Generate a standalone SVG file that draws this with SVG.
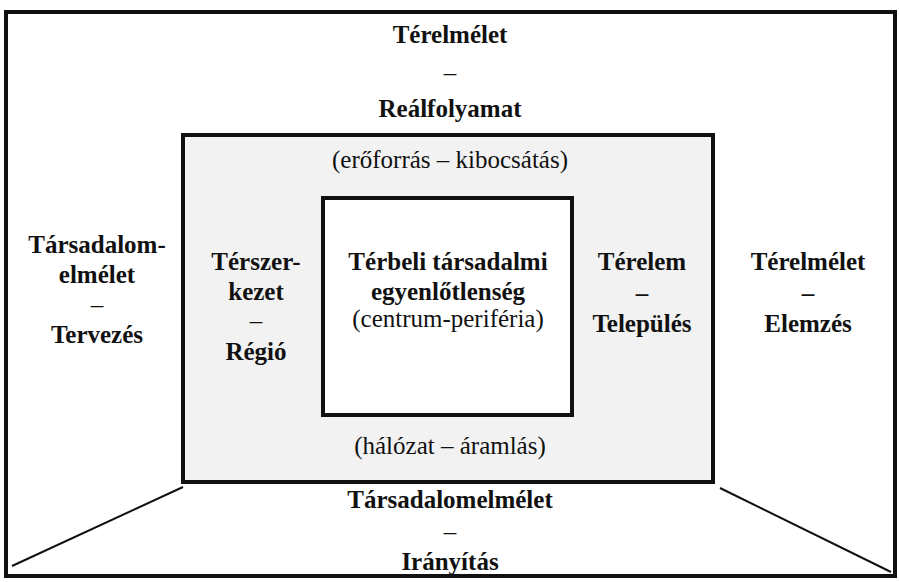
<svg xmlns="http://www.w3.org/2000/svg" width="899" height="582" viewBox="0 0 899 582">
<style>
.b{font-family:"Liberation Serif","Times New Roman",serif;font-weight:bold;font-size:25px;fill:#111;text-anchor:middle}
.r{font-family:"Liberation Serif","Times New Roman",serif;font-weight:normal;font-size:25px;fill:#111;text-anchor:middle}
.box{stroke:#111;stroke-width:4;fill:none}
</style>
<rect width="899" height="582" fill="#fff"/>
<g id="outer">
<rect class="box" x="6" y="12" width="889" height="564" stroke-width="3"/>
<text class="b" x="450" y="43">Térelmélet</text>
<text class="r" x="450" y="81">–</text>
<text class="b" x="450" y="117">Reálfolyamat</text>
<text class="b" x="97" y="253">Társadalom-</text>
<text class="b" x="97" y="283">elmélet</text>
<text class="r" x="97" y="313">–</text>
<text class="b" x="97" y="343">Tervezés</text>
<text class="b" x="808" y="270">Térelmélet</text>
<text class="b" x="808" y="301">–</text>
<text class="b" x="808" y="332">Elemzés</text>
<text class="b" x="450" y="508">Társadalomelmélet</text>
<text class="r" x="450" y="540">–</text>
<text class="b" x="450" y="570">Irányítás</text>
</g>
<g id="middle">
<rect x="183" y="135" width="530" height="347" fill="#f2f2f2" stroke="#111" stroke-width="4"/>
<text class="r" x="450" y="168">(erőforrás – kibocsátás)</text>
<text class="r" x="450" y="454">(hálózat – áramlás)</text>
<text class="b" x="256" y="270">Térszer-</text>
<text class="b" x="256" y="300">kezet</text>
<text class="r" x="256" y="329">–</text>
<text class="b" x="256" y="360">Régió</text>
<text class="b" x="642" y="270">Térelem</text>
<text class="b" x="642" y="301">–</text>
<text class="b" x="642" y="332">Település</text>
</g>
<g id="inner">
<rect x="323" y="198" width="249" height="217" fill="#fff" stroke="#111" stroke-width="4"/>
<text class="b" x="448" y="270">Térbeli társadalmi</text>
<text class="b" x="448" y="300">egyenlőtlenség</text>
<text class="r" x="448" y="327">(centrum-periféria)</text>
</g>
<g id="connectors" stroke="#111" stroke-width="2" fill="none">
<line x1="183" y1="487" x2="12" y2="566"/>
<line x1="720" y1="488" x2="891" y2="572"/>
</g>
</svg>
